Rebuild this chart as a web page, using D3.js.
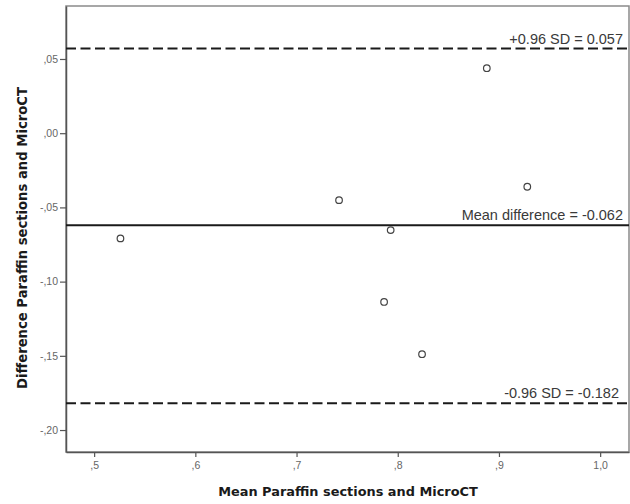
<!DOCTYPE html>
<html>
<head>
<meta charset="utf-8">
<script src="https://cdn.jsdelivr.net/npm/d3@7"></script>
<style>
  body { margin: 0; background: #fff; }
</style>
</head>
<body>
<div id="chart"></div>
<script>
// Bland-Altman points
const meanVals = [0.526, 0.742, 0.793, 0.888, 0.928, 0.7865, 0.824];
const diffVals = [-0.0709, -0.0451, -0.0653, 0.0438, -0.0361, -0.1137, -0.1489];

const refLines = [
  {value: 0.057, label: "+0.96 SD = 0.057", dashed: true},
  {value: -0.062, label: "Mean difference = -0.062", dashed: false},
  {value: -0.182, label: "-0.96 SD = -0.182", dashed: true}
];

const xTicks = [0.5, 0.6, 0.7, 0.8, 0.9, 1.0];
const xTickLabels = [",5", ",6", ",7", ",8", ",9", "1,0"];
const yTicks = [0.05, 0.00, -0.05, -0.10, -0.15, -0.20];
const yTickLabels = [",05", ",00", "-,05", "-,10", "-,15", "-,20"];

const W = 630, H = 504;
const margin = {top: 6, right: 1, bottom: 52, left: 66};
const width = W - margin.left - margin.right,
      height = H - margin.top - margin.bottom;

const svg = d3.select("#chart")
  .append("svg")
  .attr("width", W)
  .attr("height", H);

const g = svg.append("g")
  .attr("transform", `translate(${margin.left},${margin.top})`);

var x = d3.scaleLinear()
  .domain([0.4722, 1.0285])
  .range([0, width]);

var y = d3.scaleLinear()
  .domain([-0.2148, 0.0857])
  .range([height, 0]);

// frame
g.append("rect")
  .attr("x", 0).attr("y", 0)
  .attr("width", width).attr("height", height)
  .attr("fill", "none")
  .attr("stroke", "#8a8a8a")
  .attr("stroke-width", 1.5);

// axes
const xAxis = g.append("g")
  .attr("transform", `translate(0,${height})`)
  .call(d3.axisBottom(x).tickValues(xTicks).tickSize(5).tickSizeOuter(0)
    .tickFormat((d, i) => xTickLabels[i]));

const yAxis = g.append("g")
  .call(d3.axisLeft(y).tickValues(yTicks).tickSize(6).tickSizeOuter(0)
    .tickFormat((d, i) => yTickLabels[i]));

[xAxis, yAxis].forEach(a => {
  a.select(".domain").attr("stroke", "#555").attr("stroke-width", 1.5);
  a.selectAll(".tick line").attr("stroke", "#555").attr("stroke-width", 1.2);
  a.selectAll(".tick text")
    .attr("fill", "#666")
    .style("font-family", "Liberation Sans, Arial, sans-serif")
    .style("font-size", "10.5px");
});
xAxis.selectAll(".tick text").attr("dy", "1em").attr("y", 6);
yAxis.selectAll(".tick text").attr("x", -8);

// reference lines
g.append("g")
  .selectAll("line")
  .data(refLines)
  .enter()
  .append("line")
    .attr("x1", 0)
    .attr("x2", width)
    .attr("y1", d => y(d.value))
    .attr("y2", d => y(d.value))
    .attr("stroke", "#1a1a1a")
    .attr("stroke-width", 2)
    .attr("stroke-dasharray", d => d.dashed ? "10,4.5" : null);

g.append("g")
  .selectAll("text")
  .data(refLines)
  .enter()
  .append("text")
    .attr("x", d => d.dashed && d.value < 0 ? width - 10 : width - 6)
    .attr("y", d => y(d.value) - 5)
    .attr("text-anchor", "end")
    .attr("fill", "#3a3a3a")
    .style("font-family", "Liberation Sans, Arial, sans-serif")
    .style("font-size", "14.5px")
    .text(d => d.label);

// points
g.append("g")
  .selectAll("circle")
  .data(meanVals)
  .enter()
  .append("circle")
    .attr("cx", d => x(d))
    .attr("cy", (d, i) => y(diffVals[i]))
    .attr("r", 3.3)
    .attr("fill", "#fff")
    .attr("stroke", "#444")
    .attr("stroke-width", 1.2);

// axis titles
svg.append("text")
  .attr("x", 348)
  .attr("y", 496)
  .attr("text-anchor", "middle")
  .attr("fill", "#1a1a1a")
  .style("font-family", "DejaVu Sans, sans-serif")
  .style("font-weight", "bold")
  .style("font-size", "12.9px")
  .text("Mean Paraffin sections and MicroCT");

svg.append("text")
  .attr("transform", "translate(27,238) rotate(-90)")
  .attr("text-anchor", "middle")
  .attr("fill", "#1a1a1a")
  .style("font-family", "DejaVu Sans, sans-serif")
  .style("font-weight", "bold")
  .style("font-size", "13.2px")
  .text("Difference Paraffin sections and MicroCT");
</script>
</body>
</html>
